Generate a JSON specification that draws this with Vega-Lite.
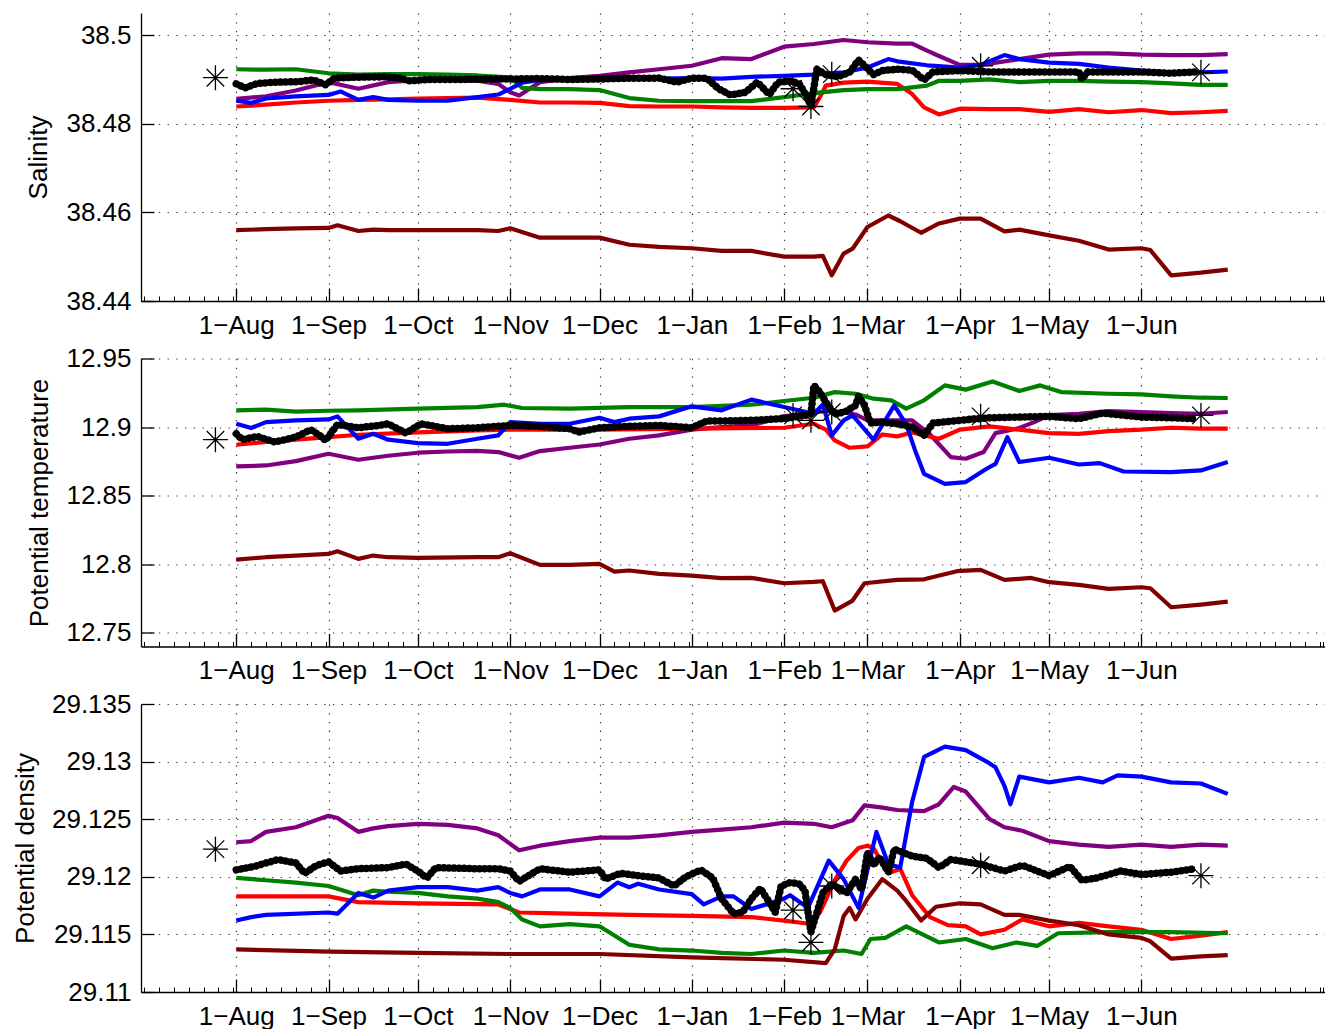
{
"$schema":"https://vega.github.io/schema/vega-lite/v6.json",
"background":"white",
"padding":{"left":12,"top":13,"right":0,"bottom":0},
"bounds":"flush",
"spacing":57.5,
"config":{
 "font":"Liberation Sans",
 "view":{"stroke":null},
 "axis":{"labelFontSize":26,"labelColor":"#000","titleFontSize":26,"titleFontWeight":"normal","titleColor":"#000","domainColor":"#000","domainWidth":1.3,"tickColor":"#000","tickWidth":1.3,"gridColor":"#000","gridDash":[1.3,7.4],"gridWidth":1.2,"gridOpacity":0.8}
},
"datasets":{
"S":[
{"s":"P","d":"2012-08-01","v":38.4856},{"s":"P","d":"2012-08-11","v":38.4862},{"s":"P","d":"2012-08-21","v":38.4875},{"s":"P","d":"2012-09-01","v":38.4894},{"s":"P","d":"2012-09-11","v":38.4879},{"s":"P","d":"2012-09-21","v":38.4894},{"s":"P","d":"2012-10-01","v":38.4899},{"s":"P","d":"2012-10-11","v":38.4899},{"s":"P","d":"2012-10-21","v":38.4897},{"s":"P","d":"2012-10-28","v":38.489},{"s":"P","d":"2012-11-01","v":38.4871},{"s":"P","d":"2012-11-04","v":38.4864},{"s":"P","d":"2012-11-11","v":38.4894},{"s":"P","d":"2012-11-21","v":38.4903},{"s":"P","d":"2012-12-01","v":38.4908},{"s":"P","d":"2012-12-11","v":38.4916},{"s":"P","d":"2012-12-21","v":38.4923},{"s":"P","d":"2013-01-01","v":38.4931},{"s":"P","d":"2013-01-11","v":38.4948},{"s":"P","d":"2013-01-21","v":38.4946},{"s":"P","d":"2013-02-01","v":38.4974},{"s":"P","d":"2013-02-11","v":38.498},{"s":"P","d":"2013-02-21","v":38.4989},{"s":"P","d":"2013-03-01","v":38.4984},{"s":"P","d":"2013-03-11","v":38.4981},{"s":"P","d":"2013-03-16","v":38.4981},{"s":"P","d":"2013-03-21","v":38.4965},{"s":"P","d":"2013-03-25","v":38.4953},{"s":"P","d":"2013-04-01","v":38.4933},{"s":"P","d":"2013-04-08","v":38.4933},{"s":"P","d":"2013-04-21","v":38.4946},{"s":"P","d":"2013-05-01","v":38.4956},{"s":"P","d":"2013-05-11","v":38.4959},{"s":"P","d":"2013-05-21","v":38.4959},{"s":"P","d":"2013-06-01","v":38.4956},{"s":"P","d":"2013-06-11","v":38.4955},{"s":"P","d":"2013-06-21","v":38.4955},{"s":"P","d":"2013-06-30","v":38.4957},
{"s":"R","d":"2012-08-01","v":38.4839},{"s":"R","d":"2012-08-11","v":38.4843},{"s":"R","d":"2012-08-21","v":38.4848},{"s":"R","d":"2012-09-01","v":38.4852},{"s":"R","d":"2012-09-11","v":38.4854},{"s":"R","d":"2012-09-21","v":38.4855},{"s":"R","d":"2012-10-01","v":38.4857},{"s":"R","d":"2012-10-11","v":38.4858},{"s":"R","d":"2012-10-21","v":38.4859},{"s":"R","d":"2012-11-01","v":38.4854},{"s":"R","d":"2012-11-11","v":38.4848},{"s":"R","d":"2012-11-21","v":38.4848},{"s":"R","d":"2012-12-01","v":38.4847},{"s":"R","d":"2012-12-11","v":38.484},{"s":"R","d":"2012-12-21","v":38.4839},{"s":"R","d":"2013-01-01","v":38.4839},{"s":"R","d":"2013-01-11","v":38.4837},{"s":"R","d":"2013-01-21","v":38.4836},{"s":"R","d":"2013-02-01","v":38.4836},{"s":"R","d":"2013-02-11","v":38.4837},{"s":"R","d":"2013-02-13","v":38.486},{"s":"R","d":"2013-02-15","v":38.4886},{"s":"R","d":"2013-02-21","v":38.4893},{"s":"R","d":"2013-03-01","v":38.4895},{"s":"R","d":"2013-03-11","v":38.489},{"s":"R","d":"2013-03-13","v":38.4881},{"s":"R","d":"2013-03-16","v":38.4867},{"s":"R","d":"2013-03-20","v":38.4837},{"s":"R","d":"2013-03-25","v":38.4821},{"s":"R","d":"2013-04-01","v":38.4834},{"s":"R","d":"2013-04-11","v":38.4833},{"s":"R","d":"2013-04-21","v":38.4833},{"s":"R","d":"2013-05-01","v":38.4827},{"s":"R","d":"2013-05-11","v":38.4833},{"s":"R","d":"2013-05-21","v":38.4826},{"s":"R","d":"2013-06-01","v":38.4831},{"s":"R","d":"2013-06-11","v":38.4824},{"s":"R","d":"2013-06-21","v":38.4826},{"s":"R","d":"2013-06-30","v":38.4829},
{"s":"G","d":"2012-08-01","v":38.4923},{"s":"G","d":"2012-08-11","v":38.4922},{"s":"G","d":"2012-08-21","v":38.4923},{"s":"G","d":"2012-09-01","v":38.4914},{"s":"G","d":"2012-09-11","v":38.4911},{"s":"G","d":"2012-09-21","v":38.4912},{"s":"G","d":"2012-10-01","v":38.4912},{"s":"G","d":"2012-10-11","v":38.4911},{"s":"G","d":"2012-10-21","v":38.4909},{"s":"G","d":"2012-11-01","v":38.4905},{"s":"G","d":"2012-11-05","v":38.4881},{"s":"G","d":"2012-11-11","v":38.4878},{"s":"G","d":"2012-11-21","v":38.4878},{"s":"G","d":"2012-12-01","v":38.4876},{"s":"G","d":"2012-12-11","v":38.4858},{"s":"G","d":"2012-12-21","v":38.4852},{"s":"G","d":"2013-01-01","v":38.4851},{"s":"G","d":"2013-01-11","v":38.4851},{"s":"G","d":"2013-01-21","v":38.4851},{"s":"G","d":"2013-02-01","v":38.486},{"s":"G","d":"2013-02-11","v":38.4869},{"s":"G","d":"2013-02-21","v":38.4876},{"s":"G","d":"2013-03-01","v":38.4878},{"s":"G","d":"2013-03-11","v":38.4878},{"s":"G","d":"2013-03-21","v":38.4886},{"s":"G","d":"2013-03-25","v":38.4897},{"s":"G","d":"2013-04-01","v":38.4897},{"s":"G","d":"2013-04-11","v":38.49},{"s":"G","d":"2013-04-21","v":38.4894},{"s":"G","d":"2013-05-01","v":38.4897},{"s":"G","d":"2013-05-11","v":38.4897},{"s":"G","d":"2013-05-21","v":38.4895},{"s":"G","d":"2013-06-01","v":38.4894},{"s":"G","d":"2013-06-11","v":38.4891},{"s":"G","d":"2013-06-21","v":38.4888},{"s":"G","d":"2013-06-30","v":38.4888},
{"s":"M","d":"2012-08-01","v":38.456},{"s":"M","d":"2012-08-11","v":38.4562},{"s":"M","d":"2012-08-21","v":38.4564},{"s":"M","d":"2012-09-01","v":38.4565},{"s":"M","d":"2012-09-04","v":38.4571},{"s":"M","d":"2012-09-11","v":38.4558},{"s":"M","d":"2012-09-16","v":38.4561},{"s":"M","d":"2012-09-21","v":38.456},{"s":"M","d":"2012-10-01","v":38.456},{"s":"M","d":"2012-10-11","v":38.456},{"s":"M","d":"2012-10-21","v":38.456},{"s":"M","d":"2012-10-28","v":38.4558},{"s":"M","d":"2012-11-01","v":38.4564},{"s":"M","d":"2012-11-11","v":38.4543},{"s":"M","d":"2012-11-21","v":38.4543},{"s":"M","d":"2012-12-01","v":38.4543},{"s":"M","d":"2012-12-11","v":38.4527},{"s":"M","d":"2012-12-21","v":38.4522},{"s":"M","d":"2013-01-01","v":38.4519},{"s":"M","d":"2013-01-11","v":38.4513},{"s":"M","d":"2013-01-21","v":38.4513},{"s":"M","d":"2013-02-01","v":38.45},{"s":"M","d":"2013-02-11","v":38.45},{"s":"M","d":"2013-02-14","v":38.4502},{"s":"M","d":"2013-02-17","v":38.4458},{"s":"M","d":"2013-02-21","v":38.4507},{"s":"M","d":"2013-02-24","v":38.4518},{"s":"M","d":"2013-03-01","v":38.4567},{"s":"M","d":"2013-03-08","v":38.4593},{"s":"M","d":"2013-03-12","v":38.458},{"s":"M","d":"2013-03-19","v":38.4554},{"s":"M","d":"2013-03-25","v":38.4575},{"s":"M","d":"2013-04-01","v":38.4586},{"s":"M","d":"2013-04-08","v":38.4586},{"s":"M","d":"2013-04-16","v":38.4557},{"s":"M","d":"2013-04-21","v":38.4561},{"s":"M","d":"2013-05-01","v":38.4548},{"s":"M","d":"2013-05-11","v":38.4536},{"s":"M","d":"2013-05-21","v":38.4516},{"s":"M","d":"2013-06-01","v":38.4519},{"s":"M","d":"2013-06-04","v":38.4515},{"s":"M","d":"2013-06-11","v":38.4458},{"s":"M","d":"2013-06-21","v":38.4464},{"s":"M","d":"2013-06-30","v":38.4471},
{"s":"B","d":"2012-08-01","v":38.4852},{"s":"B","d":"2012-08-06","v":38.4847},{"s":"B","d":"2012-08-11","v":38.4857},{"s":"B","d":"2012-08-21","v":38.4862},{"s":"B","d":"2012-09-01","v":38.4865},{"s":"B","d":"2012-09-05","v":38.4873},{"s":"B","d":"2012-09-11","v":38.4854},{"s":"B","d":"2012-09-16","v":38.486},{"s":"B","d":"2012-09-21","v":38.4854},{"s":"B","d":"2012-10-01","v":38.4852},{"s":"B","d":"2012-10-11","v":38.4852},{"s":"B","d":"2012-10-21","v":38.486},{"s":"B","d":"2012-10-28","v":38.4866},{"s":"B","d":"2012-11-01","v":38.4879},{"s":"B","d":"2012-11-05","v":38.4893},{"s":"B","d":"2012-11-11","v":38.4899},{"s":"B","d":"2012-11-21","v":38.4901},{"s":"B","d":"2012-12-01","v":38.4901},{"s":"B","d":"2012-12-11","v":38.4902},{"s":"B","d":"2012-12-21","v":38.4902},{"s":"B","d":"2013-01-01","v":38.4903},{"s":"B","d":"2013-01-11","v":38.4902},{"s":"B","d":"2013-01-21","v":38.4906},{"s":"B","d":"2013-02-01","v":38.4908},{"s":"B","d":"2013-02-11","v":38.4911},{"s":"B","d":"2013-02-21","v":38.4916},{"s":"B","d":"2013-03-01","v":38.4927},{"s":"B","d":"2013-03-08","v":38.4946},{"s":"B","d":"2013-03-11","v":38.4941},{"s":"B","d":"2013-03-21","v":38.4932},{"s":"B","d":"2013-04-01","v":38.4927},{"s":"B","d":"2013-04-08","v":38.4933},{"s":"B","d":"2013-04-16","v":38.4955},{"s":"B","d":"2013-04-21","v":38.4946},{"s":"B","d":"2013-05-01","v":38.4938},{"s":"B","d":"2013-05-11","v":38.4935},{"s":"B","d":"2013-05-21","v":38.4927},{"s":"B","d":"2013-06-01","v":38.492},{"s":"B","d":"2013-06-11","v":38.4916},{"s":"B","d":"2013-06-21","v":38.4916},{"s":"B","d":"2013-06-30","v":38.4918},
{"s":"K","d":"2012-08-01","v":38.489},{"s":"K","d":"2012-08-04","v":38.4881},{"s":"K","d":"2012-08-08","v":38.4891},{"s":"K","d":"2012-08-15","v":38.4894},{"s":"K","d":"2012-08-22","v":38.4895},{"s":"K","d":"2012-08-27","v":38.4899},{"s":"K","d":"2012-08-31","v":38.4888},{"s":"K","d":"2012-09-03","v":38.4903},{"s":"K","d":"2012-09-10","v":38.4905},{"s":"K","d":"2012-09-20","v":38.4906},{"s":"K","d":"2012-09-25","v":38.4903},{"s":"K","d":"2012-09-28","v":38.4897},{"s":"K","d":"2012-10-05","v":38.49},{"s":"K","d":"2012-10-15","v":38.49},{"s":"K","d":"2012-10-25","v":38.4901},{"s":"K","d":"2012-11-01","v":38.4901},{"s":"K","d":"2012-11-11","v":38.4902},{"s":"K","d":"2012-11-21","v":38.49},{"s":"K","d":"2012-12-01","v":38.4901},{"s":"K","d":"2012-12-11","v":38.4903},{"s":"K","d":"2012-12-21","v":38.4903},{"s":"K","d":"2012-12-27","v":38.4894},{"s":"K","d":"2013-01-01","v":38.4903},{"s":"K","d":"2013-01-06","v":38.4903},{"s":"K","d":"2013-01-10","v":38.4879},{"s":"K","d":"2013-01-14","v":38.4865},{"s":"K","d":"2013-01-19","v":38.4871},{"s":"K","d":"2013-01-23","v":38.4894},{"s":"K","d":"2013-01-27","v":38.4866},{"s":"K","d":"2013-01-30","v":38.4894},{"s":"K","d":"2013-02-03","v":38.4896},{"s":"K","d":"2013-02-06","v":38.4891},{"s":"K","d":"2013-02-08","v":38.4869},{"s":"K","d":"2013-02-10","v":38.4841},{"s":"K","d":"2013-02-12","v":38.4923},{"s":"K","d":"2013-02-15","v":38.4911},{"s":"K","d":"2013-02-19","v":38.4906},{"s":"K","d":"2013-02-23","v":38.4916},{"s":"K","d":"2013-02-26","v":38.4944},{"s":"K","d":"2013-02-28","v":38.4931},{"s":"K","d":"2013-03-03","v":38.4911},{"s":"K","d":"2013-03-06","v":38.492},{"s":"K","d":"2013-03-11","v":38.4923},{"s":"K","d":"2013-03-16","v":38.4921},{"s":"K","d":"2013-03-20","v":38.4899},{"s":"K","d":"2013-03-23","v":38.4917},{"s":"K","d":"2013-04-01","v":38.492},{"s":"K","d":"2013-04-11","v":38.4917},{"s":"K","d":"2013-04-21","v":38.4917},{"s":"K","d":"2013-05-01","v":38.4917},{"s":"K","d":"2013-05-11","v":38.4917},{"s":"K","d":"2013-05-12","v":38.4901},{"s":"K","d":"2013-05-14","v":38.4917},{"s":"K","d":"2013-05-21","v":38.4917},{"s":"K","d":"2013-06-01","v":38.4917},{"s":"K","d":"2013-06-11","v":38.4914},{"s":"K","d":"2013-06-19","v":38.4917},
{"s":"A","d":"2012-07-25","v":38.4904},{"s":"A","d":"2013-02-04","v":38.4879},{"s":"A","d":"2013-02-10","v":38.4839},{"s":"A","d":"2013-02-17","v":38.4912},{"s":"A","d":"2013-04-08","v":38.4931},{"s":"A","d":"2013-06-21","v":38.4916}
],
"T":[
{"s":"P","d":"2012-08-01","v":12.8713},{"s":"P","d":"2012-08-11","v":12.872},{"s":"P","d":"2012-08-21","v":12.8752},{"s":"P","d":"2012-09-01","v":12.8805},{"s":"P","d":"2012-09-11","v":12.8762},{"s":"P","d":"2012-09-21","v":12.8791},{"s":"P","d":"2012-10-01","v":12.8813},{"s":"P","d":"2012-10-11","v":12.8822},{"s":"P","d":"2012-10-21","v":12.8827},{"s":"P","d":"2012-10-28","v":12.8818},{"s":"P","d":"2012-11-04","v":12.8776},{"s":"P","d":"2012-11-11","v":12.8825},{"s":"P","d":"2012-11-21","v":12.8849},{"s":"P","d":"2012-12-01","v":12.8873},{"s":"P","d":"2012-12-11","v":12.8915},{"s":"P","d":"2012-12-21","v":12.8939},{"s":"P","d":"2013-01-01","v":12.8981},{"s":"P","d":"2013-01-11","v":12.9},{"s":"P","d":"2013-01-21","v":12.9012},{"s":"P","d":"2013-02-01","v":12.9078},{"s":"P","d":"2013-02-11","v":12.911},{"s":"P","d":"2013-02-18","v":12.9117},{"s":"P","d":"2013-02-25","v":12.9092},{"s":"P","d":"2013-03-01","v":12.9049},{"s":"P","d":"2013-03-11","v":12.9049},{"s":"P","d":"2013-03-16","v":12.9049},{"s":"P","d":"2013-03-22","v":12.8946},{"s":"P","d":"2013-03-29","v":12.8781},{"s":"P","d":"2013-04-03","v":12.8769},{"s":"P","d":"2013-04-09","v":12.8818},{"s":"P","d":"2013-04-13","v":12.8956},{"s":"P","d":"2013-04-21","v":12.8993},{"s":"P","d":"2013-04-26","v":12.9036},{"s":"P","d":"2013-05-01","v":12.9088},{"s":"P","d":"2013-05-11","v":12.9097},{"s":"P","d":"2013-05-21","v":12.9117},{"s":"P","d":"2013-06-01","v":12.911},{"s":"P","d":"2013-06-11","v":12.9102},{"s":"P","d":"2013-06-21","v":12.9097},{"s":"P","d":"2013-06-30","v":12.911},
{"s":"R","d":"2012-08-01","v":12.8871},{"s":"R","d":"2012-08-11","v":12.8891},{"s":"R","d":"2012-08-21","v":12.8908},{"s":"R","d":"2012-09-01","v":12.8927},{"s":"R","d":"2012-09-11","v":12.8944},{"s":"R","d":"2012-10-01","v":12.8961},{"s":"R","d":"2012-10-21","v":12.8976},{"s":"R","d":"2012-11-01","v":12.8981},{"s":"R","d":"2012-12-01","v":12.8981},{"s":"R","d":"2013-01-01","v":12.8988},{"s":"R","d":"2013-02-01","v":12.8995},{"s":"R","d":"2013-02-11","v":12.9024},{"s":"R","d":"2013-02-15","v":12.8981},{"s":"R","d":"2013-02-18","v":12.8903},{"s":"R","d":"2013-02-23","v":12.8849},{"s":"R","d":"2013-03-01","v":12.8859},{"s":"R","d":"2013-03-06","v":12.8946},{"s":"R","d":"2013-03-11","v":12.8932},{"s":"R","d":"2013-03-16","v":12.8961},{"s":"R","d":"2013-03-25","v":12.8915},{"s":"R","d":"2013-04-01","v":12.8981},{"s":"R","d":"2013-04-11","v":12.9005},{"s":"R","d":"2013-04-21","v":12.8981},{"s":"R","d":"2013-05-01","v":12.8956},{"s":"R","d":"2013-05-11","v":12.8951},{"s":"R","d":"2013-05-21","v":12.8971},{"s":"R","d":"2013-06-01","v":12.8981},{"s":"R","d":"2013-06-11","v":12.8995},{"s":"R","d":"2013-06-21","v":12.8988},{"s":"R","d":"2013-06-30","v":12.8988},
{"s":"G","d":"2012-08-01","v":12.9122},{"s":"G","d":"2012-08-11","v":12.9127},{"s":"G","d":"2012-08-21","v":12.9112},{"s":"G","d":"2012-09-01","v":12.9119},{"s":"G","d":"2012-09-11","v":12.9122},{"s":"G","d":"2012-10-01","v":12.9134},{"s":"G","d":"2012-10-21","v":12.9146},{"s":"G","d":"2012-10-30","v":12.9163},{"s":"G","d":"2012-11-05","v":12.9139},{"s":"G","d":"2012-11-21","v":12.9134},{"s":"G","d":"2012-12-11","v":12.9146},{"s":"G","d":"2013-01-01","v":12.9146},{"s":"G","d":"2013-01-21","v":12.9163},{"s":"G","d":"2013-02-01","v":12.919},{"s":"G","d":"2013-02-11","v":12.9214},{"s":"G","d":"2013-02-18","v":12.9255},{"s":"G","d":"2013-02-25","v":12.9243},{"s":"G","d":"2013-03-03","v":12.9207},{"s":"G","d":"2013-03-09","v":12.9195},{"s":"G","d":"2013-03-14","v":12.9134},{"s":"G","d":"2013-03-20","v":12.9195},{"s":"G","d":"2013-03-27","v":12.9304},{"s":"G","d":"2013-04-03","v":12.9273},{"s":"G","d":"2013-04-12","v":12.9333},{"s":"G","d":"2013-04-21","v":12.9263},{"s":"G","d":"2013-04-28","v":12.9304},{"s":"G","d":"2013-05-05","v":12.9255},{"s":"G","d":"2013-05-21","v":12.9243},{"s":"G","d":"2013-06-01","v":12.9238},{"s":"G","d":"2013-06-11","v":12.9224},{"s":"G","d":"2013-06-21","v":12.9214},{"s":"G","d":"2013-06-30","v":12.9212},
{"s":"M","d":"2012-08-01","v":12.8034},{"s":"M","d":"2012-08-11","v":12.8051},{"s":"M","d":"2012-08-21","v":12.8063},{"s":"M","d":"2012-09-01","v":12.8075},{"s":"M","d":"2012-09-04","v":12.8095},{"s":"M","d":"2012-09-11","v":12.8039},{"s":"M","d":"2012-09-16","v":12.8063},{"s":"M","d":"2012-09-21","v":12.8051},{"s":"M","d":"2012-10-01","v":12.8046},{"s":"M","d":"2012-10-21","v":12.8051},{"s":"M","d":"2012-10-28","v":12.8051},{"s":"M","d":"2012-11-01","v":12.808},{"s":"M","d":"2012-11-11","v":12.7995},{"s":"M","d":"2012-11-21","v":12.7995},{"s":"M","d":"2012-12-01","v":12.8002},{"s":"M","d":"2012-12-06","v":12.7946},{"s":"M","d":"2012-12-11","v":12.7954},{"s":"M","d":"2012-12-21","v":12.7929},{"s":"M","d":"2013-01-01","v":12.7917},{"s":"M","d":"2013-01-11","v":12.7898},{"s":"M","d":"2013-01-21","v":12.79},{"s":"M","d":"2013-02-01","v":12.7861},{"s":"M","d":"2013-02-11","v":12.7871},{"s":"M","d":"2013-02-14","v":12.7876},{"s":"M","d":"2013-02-18","v":12.7662},{"s":"M","d":"2013-02-24","v":12.7735},{"s":"M","d":"2013-02-28","v":12.7861},{"s":"M","d":"2013-03-11","v":12.7886},{"s":"M","d":"2013-03-20","v":12.789},{"s":"M","d":"2013-03-31","v":12.7949},{"s":"M","d":"2013-04-08","v":12.7959},{"s":"M","d":"2013-04-16","v":12.7886},{"s":"M","d":"2013-04-25","v":12.79},{"s":"M","d":"2013-05-01","v":12.7869},{"s":"M","d":"2013-05-11","v":12.7849},{"s":"M","d":"2013-05-21","v":12.782},{"s":"M","d":"2013-06-01","v":12.7832},{"s":"M","d":"2013-06-04","v":12.7825},{"s":"M","d":"2013-06-11","v":12.7686},{"s":"M","d":"2013-06-21","v":12.7706},{"s":"M","d":"2013-06-30","v":12.7727},
{"s":"B","d":"2012-08-01","v":12.9024},{"s":"B","d":"2012-08-06","v":12.8993},{"s":"B","d":"2012-08-11","v":12.9036},{"s":"B","d":"2012-08-21","v":12.9049},{"s":"B","d":"2012-09-01","v":12.9056},{"s":"B","d":"2012-09-04","v":12.9078},{"s":"B","d":"2012-09-11","v":12.8915},{"s":"B","d":"2012-09-16","v":12.8951},{"s":"B","d":"2012-09-21","v":12.8908},{"s":"B","d":"2012-10-01","v":12.8883},{"s":"B","d":"2012-10-11","v":12.8878},{"s":"B","d":"2012-10-21","v":12.8915},{"s":"B","d":"2012-10-28","v":12.8939},{"s":"B","d":"2012-11-01","v":12.9036},{"s":"B","d":"2012-11-11","v":12.9024},{"s":"B","d":"2012-11-21","v":12.9024},{"s":"B","d":"2012-12-01","v":12.9068},{"s":"B","d":"2012-12-06","v":12.9036},{"s":"B","d":"2012-12-11","v":12.9061},{"s":"B","d":"2012-12-21","v":12.9078},{"s":"B","d":"2013-01-01","v":12.9151},{"s":"B","d":"2013-01-11","v":12.9122},{"s":"B","d":"2013-01-21","v":12.92},{"s":"B","d":"2013-02-01","v":12.9146},{"s":"B","d":"2013-02-11","v":12.9097},{"s":"B","d":"2013-02-14","v":12.9165},{"s":"B","d":"2013-02-17","v":12.8939},{"s":"B","d":"2013-02-21","v":12.9049},{"s":"B","d":"2013-02-24","v":12.9085},{"s":"B","d":"2013-03-03","v":12.8908},{"s":"B","d":"2013-03-10","v":12.9158},{"s":"B","d":"2013-03-14","v":12.902},{"s":"B","d":"2013-03-17","v":12.883},{"s":"B","d":"2013-03-20","v":12.8659},{"s":"B","d":"2013-03-27","v":12.8586},{"s":"B","d":"2013-04-03","v":12.8599},{"s":"B","d":"2013-04-10","v":12.8696},{"s":"B","d":"2013-04-13","v":12.8732},{"s":"B","d":"2013-04-17","v":12.8927},{"s":"B","d":"2013-04-21","v":12.8745},{"s":"B","d":"2013-05-01","v":12.8776},{"s":"B","d":"2013-05-11","v":12.8727},{"s":"B","d":"2013-05-18","v":12.8737},{"s":"B","d":"2013-05-26","v":12.8676},{"s":"B","d":"2013-06-11","v":12.8672},{"s":"B","d":"2013-06-21","v":12.8684},{"s":"B","d":"2013-06-30","v":12.8745},
{"s":"K","d":"2012-08-01","v":12.8951},{"s":"K","d":"2012-08-03","v":12.8908},{"s":"K","d":"2012-08-08","v":12.8932},{"s":"K","d":"2012-08-14","v":12.8891},{"s":"K","d":"2012-08-21","v":12.8927},{"s":"K","d":"2012-08-26","v":12.8981},{"s":"K","d":"2012-08-29","v":12.8939},{"s":"K","d":"2012-08-31","v":12.8903},{"s":"K","d":"2012-09-04","v":12.9019},{"s":"K","d":"2012-09-11","v":12.8995},{"s":"K","d":"2012-09-18","v":12.9012},{"s":"K","d":"2012-09-21","v":12.9024},{"s":"K","d":"2012-09-27","v":12.8956},{"s":"K","d":"2012-10-02","v":12.9024},{"s":"K","d":"2012-10-11","v":12.8988},{"s":"K","d":"2012-10-21","v":12.8995},{"s":"K","d":"2012-11-01","v":12.9012},{"s":"K","d":"2012-11-11","v":12.9005},{"s":"K","d":"2012-11-21","v":12.8988},{"s":"K","d":"2012-11-24","v":12.8963},{"s":"K","d":"2012-12-01","v":12.8995},{"s":"K","d":"2012-12-11","v":12.9005},{"s":"K","d":"2012-12-21","v":12.9012},{"s":"K","d":"2013-01-01","v":12.8995},{"s":"K","d":"2013-01-06","v":12.9044},{"s":"K","d":"2013-01-11","v":12.9044},{"s":"K","d":"2013-01-21","v":12.9049},{"s":"K","d":"2013-02-01","v":12.9061},{"s":"K","d":"2013-02-06","v":12.9078},{"s":"K","d":"2013-02-10","v":12.9092},{"s":"K","d":"2013-02-11","v":12.9304},{"s":"K","d":"2013-02-13","v":12.9255},{"s":"K","d":"2013-02-15","v":12.9182},{"s":"K","d":"2013-02-18","v":12.9092},{"s":"K","d":"2013-02-22","v":12.9117},{"s":"K","d":"2013-02-25","v":12.9158},{"s":"K","d":"2013-02-26","v":12.9224},{"s":"K","d":"2013-02-28","v":12.9158},{"s":"K","d":"2013-03-02","v":12.9029},{"s":"K","d":"2013-03-06","v":12.9036},{"s":"K","d":"2013-03-11","v":12.9024},{"s":"K","d":"2013-03-16","v":12.9},{"s":"K","d":"2013-03-20","v":12.8939},{"s":"K","d":"2013-03-23","v":12.9029},{"s":"K","d":"2013-04-01","v":12.9049},{"s":"K","d":"2013-04-11","v":12.9068},{"s":"K","d":"2013-04-21","v":12.9073},{"s":"K","d":"2013-05-01","v":12.9078},{"s":"K","d":"2013-05-11","v":12.9061},{"s":"K","d":"2013-05-19","v":12.9102},{"s":"K","d":"2013-06-01","v":12.9073},{"s":"K","d":"2013-06-11","v":12.9068},{"s":"K","d":"2013-06-19","v":12.9061},
{"s":"A","d":"2012-07-25","v":12.8908},{"s":"A","d":"2013-02-04","v":12.9085},{"s":"A","d":"2013-02-10","v":12.9049},{"s":"A","d":"2013-02-17","v":12.911},{"s":"A","d":"2013-04-08","v":12.9078},{"s":"A","d":"2013-06-21","v":12.9085}
],
"D":[
{"s":"P","d":"2012-08-01","v":29.123},{"s":"P","d":"2012-08-06","v":29.1231},{"s":"P","d":"2012-08-11","v":29.1239},{"s":"P","d":"2012-08-21","v":29.1243},{"s":"P","d":"2012-09-01","v":29.1253},{"s":"P","d":"2012-09-04","v":29.1251},{"s":"P","d":"2012-09-11","v":29.1239},{"s":"P","d":"2012-09-16","v":29.1242},{"s":"P","d":"2012-09-21","v":29.1244},{"s":"P","d":"2012-10-01","v":29.1246},{"s":"P","d":"2012-10-11","v":29.1245},{"s":"P","d":"2012-10-21","v":29.1242},{"s":"P","d":"2012-10-28","v":29.1236},{"s":"P","d":"2012-11-04","v":29.1223},{"s":"P","d":"2012-11-11","v":29.1227},{"s":"P","d":"2012-11-21","v":29.1231},{"s":"P","d":"2012-12-01","v":29.1234},{"s":"P","d":"2012-12-11","v":29.1234},{"s":"P","d":"2012-12-21","v":29.1236},{"s":"P","d":"2013-01-01","v":29.1239},{"s":"P","d":"2013-01-11","v":29.1241},{"s":"P","d":"2013-01-21","v":29.1243},{"s":"P","d":"2013-02-01","v":29.1247},{"s":"P","d":"2013-02-11","v":29.1246},{"s":"P","d":"2013-02-17","v":29.1243},{"s":"P","d":"2013-02-24","v":29.1249},{"s":"P","d":"2013-02-28","v":29.1262},{"s":"P","d":"2013-03-06","v":29.126},{"s":"P","d":"2013-03-11","v":29.1258},{"s":"P","d":"2013-03-20","v":29.1257},{"s":"P","d":"2013-03-25","v":29.1263},{"s":"P","d":"2013-03-30","v":29.1278},{"s":"P","d":"2013-04-03","v":29.1274},{"s":"P","d":"2013-04-11","v":29.125},{"s":"P","d":"2013-04-16","v":29.1243},{"s":"P","d":"2013-04-22","v":29.124},{"s":"P","d":"2013-05-01","v":29.1231},{"s":"P","d":"2013-05-11","v":29.1228},{"s":"P","d":"2013-05-21","v":29.1226},{"s":"P","d":"2013-06-01","v":29.1228},{"s":"P","d":"2013-06-11","v":29.1226},{"s":"P","d":"2013-06-21","v":29.1228},{"s":"P","d":"2013-06-30","v":29.1227},
{"s":"R","d":"2012-08-01","v":29.1183},{"s":"R","d":"2012-09-01","v":29.1183},{"s":"R","d":"2012-09-11","v":29.1178},{"s":"R","d":"2012-10-01","v":29.1177},{"s":"R","d":"2012-10-28","v":29.1176},{"s":"R","d":"2012-11-04","v":29.1169},{"s":"R","d":"2012-11-21","v":29.1168},{"s":"R","d":"2012-12-11","v":29.1167},{"s":"R","d":"2013-01-01","v":29.1166},{"s":"R","d":"2013-01-21","v":29.1165},{"s":"R","d":"2013-02-01","v":29.1162},{"s":"R","d":"2013-02-10","v":29.1159},{"s":"R","d":"2013-02-13","v":29.1169},{"s":"R","d":"2013-02-18","v":29.1197},{"s":"R","d":"2013-02-22","v":29.1214},{"s":"R","d":"2013-02-26","v":29.1225},{"s":"R","d":"2013-03-01","v":29.1227},{"s":"R","d":"2013-03-03","v":29.1225},{"s":"R","d":"2013-03-08","v":29.1203},{"s":"R","d":"2013-03-12","v":29.1207},{"s":"R","d":"2013-03-16","v":29.1184},{"s":"R","d":"2013-03-22","v":29.1165},{"s":"R","d":"2013-03-28","v":29.1158},{"s":"R","d":"2013-04-03","v":29.1157},{"s":"R","d":"2013-04-08","v":29.115},{"s":"R","d":"2013-04-16","v":29.1154},{"s":"R","d":"2013-04-22","v":29.1163},{"s":"R","d":"2013-05-01","v":29.1157},{"s":"R","d":"2013-05-11","v":29.116},{"s":"R","d":"2013-05-21","v":29.1157},{"s":"R","d":"2013-06-01","v":29.1154},{"s":"R","d":"2013-06-11","v":29.1146},{"s":"R","d":"2013-06-21","v":29.1149},{"s":"R","d":"2013-06-30","v":29.1152},
{"s":"G","d":"2012-08-01","v":29.1199},{"s":"G","d":"2012-08-11","v":29.1197},{"s":"G","d":"2012-08-21","v":29.1195},{"s":"G","d":"2012-09-01","v":29.1192},{"s":"G","d":"2012-09-11","v":29.1184},{"s":"G","d":"2012-09-16","v":29.1188},{"s":"G","d":"2012-09-21","v":29.1187},{"s":"G","d":"2012-10-01","v":29.1186},{"s":"G","d":"2012-10-11","v":29.1183},{"s":"G","d":"2012-10-21","v":29.1181},{"s":"G","d":"2012-10-28","v":29.1178},{"s":"G","d":"2012-11-01","v":29.1173},{"s":"G","d":"2012-11-05","v":29.1163},{"s":"G","d":"2012-11-11","v":29.1157},{"s":"G","d":"2012-11-21","v":29.1159},{"s":"G","d":"2012-12-01","v":29.1157},{"s":"G","d":"2012-12-11","v":29.1141},{"s":"G","d":"2012-12-21","v":29.1137},{"s":"G","d":"2013-01-01","v":29.1136},{"s":"G","d":"2013-01-11","v":29.1134},{"s":"G","d":"2013-01-21","v":29.1133},{"s":"G","d":"2013-02-01","v":29.1136},{"s":"G","d":"2013-02-11","v":29.1134},{"s":"G","d":"2013-02-21","v":29.1136},{"s":"G","d":"2013-02-27","v":29.1133},{"s":"G","d":"2013-03-02","v":29.1146},{"s":"G","d":"2013-03-07","v":29.1147},{"s":"G","d":"2013-03-14","v":29.1157},{"s":"G","d":"2013-03-25","v":29.1143},{"s":"G","d":"2013-04-03","v":29.1146},{"s":"G","d":"2013-04-12","v":29.1138},{"s":"G","d":"2013-04-20","v":29.1143},{"s":"G","d":"2013-04-27","v":29.114},{"s":"G","d":"2013-05-04","v":29.1151},{"s":"G","d":"2013-05-21","v":29.1152},{"s":"G","d":"2013-06-11","v":29.1152},{"s":"G","d":"2013-06-30","v":29.1151},
{"s":"M","d":"2012-08-01","v":29.1137},{"s":"M","d":"2012-09-01","v":29.1135},{"s":"M","d":"2012-10-01","v":29.1134},{"s":"M","d":"2012-11-01","v":29.1133},{"s":"M","d":"2012-12-01","v":29.1133},{"s":"M","d":"2013-01-01","v":29.113},{"s":"M","d":"2013-02-01","v":29.1128},{"s":"M","d":"2013-02-15","v":29.1125},{"s":"M","d":"2013-02-18","v":29.1137},{"s":"M","d":"2013-02-21","v":29.1166},{"s":"M","d":"2013-02-23","v":29.1173},{"s":"M","d":"2013-02-25","v":29.1163},{"s":"M","d":"2013-03-01","v":29.1181},{"s":"M","d":"2013-03-06","v":29.1198},{"s":"M","d":"2013-03-11","v":29.1188},{"s":"M","d":"2013-03-14","v":29.1179},{"s":"M","d":"2013-03-19","v":29.1162},{"s":"M","d":"2013-03-24","v":29.1174},{"s":"M","d":"2013-04-01","v":29.1177},{"s":"M","d":"2013-04-08","v":29.1176},{"s":"M","d":"2013-04-16","v":29.1167},{"s":"M","d":"2013-04-21","v":29.1167},{"s":"M","d":"2013-05-01","v":29.1162},{"s":"M","d":"2013-05-11","v":29.1158},{"s":"M","d":"2013-05-21","v":29.115},{"s":"M","d":"2013-06-01","v":29.1147},{"s":"M","d":"2013-06-04","v":29.1144},{"s":"M","d":"2013-06-11","v":29.1129},{"s":"M","d":"2013-06-21","v":29.1131},{"s":"M","d":"2013-06-30","v":29.1132},
{"s":"B","d":"2012-08-01","v":29.1162},{"s":"B","d":"2012-08-06","v":29.1165},{"s":"B","d":"2012-08-11","v":29.1167},{"s":"B","d":"2012-09-01","v":29.1169},{"s":"B","d":"2012-09-04","v":29.1168},{"s":"B","d":"2012-09-11","v":29.1186},{"s":"B","d":"2012-09-16","v":29.1182},{"s":"B","d":"2012-09-21","v":29.1188},{"s":"B","d":"2012-10-01","v":29.1191},{"s":"B","d":"2012-10-11","v":29.1191},{"s":"B","d":"2012-10-21","v":29.1188},{"s":"B","d":"2012-10-28","v":29.1191},{"s":"B","d":"2012-11-01","v":29.1186},{"s":"B","d":"2012-11-05","v":29.1183},{"s":"B","d":"2012-11-11","v":29.1189},{"s":"B","d":"2012-11-21","v":29.1189},{"s":"B","d":"2012-12-01","v":29.1183},{"s":"B","d":"2012-12-07","v":29.1195},{"s":"B","d":"2012-12-11","v":29.1191},{"s":"B","d":"2012-12-14","v":29.1194},{"s":"B","d":"2012-12-21","v":29.1189},{"s":"B","d":"2013-01-01","v":29.1185},{"s":"B","d":"2013-01-05","v":29.1176},{"s":"B","d":"2013-01-11","v":29.1183},{"s":"B","d":"2013-01-15","v":29.1183},{"s":"B","d":"2013-01-21","v":29.1172},{"s":"B","d":"2013-02-01","v":29.1181},{"s":"B","d":"2013-02-03","v":29.1184},{"s":"B","d":"2013-02-09","v":29.1173},{"s":"B","d":"2013-02-16","v":29.1214},{"s":"B","d":"2013-02-21","v":29.1198},{"s":"B","d":"2013-02-26","v":29.1173},{"s":"B","d":"2013-03-04","v":29.1239},{"s":"B","d":"2013-03-08","v":29.1211},{"s":"B","d":"2013-03-12","v":29.1208},{"s":"B","d":"2013-03-16","v":29.1265},{"s":"B","d":"2013-03-20","v":29.1304},{"s":"B","d":"2013-03-27","v":29.1313},{"s":"B","d":"2013-04-03","v":29.131},{"s":"B","d":"2013-04-10","v":29.13},{"s":"B","d":"2013-04-13","v":29.1295},{"s":"B","d":"2013-04-16","v":29.1279},{"s":"B","d":"2013-04-18","v":29.1263},{"s":"B","d":"2013-04-21","v":29.1287},{"s":"B","d":"2013-05-01","v":29.1282},{"s":"B","d":"2013-05-11","v":29.1286},{"s":"B","d":"2013-05-19","v":29.1282},{"s":"B","d":"2013-05-24","v":29.1288},{"s":"B","d":"2013-06-01","v":29.1287},{"s":"B","d":"2013-06-11","v":29.1282},{"s":"B","d":"2013-06-21","v":29.1281},{"s":"B","d":"2013-06-30","v":29.1272},
{"s":"K","d":"2012-08-01","v":29.1206},{"s":"K","d":"2012-08-07","v":29.1209},{"s":"K","d":"2012-08-11","v":29.1212},{"s":"K","d":"2012-08-15","v":29.1215},{"s":"K","d":"2012-08-21","v":29.1212},{"s":"K","d":"2012-08-24","v":29.1203},{"s":"K","d":"2012-08-28","v":29.121},{"s":"K","d":"2012-09-01","v":29.1213},{"s":"K","d":"2012-09-05","v":29.1205},{"s":"K","d":"2012-09-11","v":29.1207},{"s":"K","d":"2012-09-21","v":29.1208},{"s":"K","d":"2012-09-27","v":29.1211},{"s":"K","d":"2012-10-01","v":29.1205},{"s":"K","d":"2012-10-04","v":29.1199},{"s":"K","d":"2012-10-07","v":29.1208},{"s":"K","d":"2012-10-21","v":29.1207},{"s":"K","d":"2012-10-28","v":29.1207},{"s":"K","d":"2012-11-01","v":29.1205},{"s":"K","d":"2012-11-04","v":29.1196},{"s":"K","d":"2012-11-11","v":29.1207},{"s":"K","d":"2012-11-21","v":29.1204},{"s":"K","d":"2012-12-01","v":29.1206},{"s":"K","d":"2012-12-03","v":29.1198},{"s":"K","d":"2012-12-08","v":29.1203},{"s":"K","d":"2012-12-14","v":29.1201},{"s":"K","d":"2012-12-21","v":29.1199},{"s":"K","d":"2012-12-26","v":29.1192},{"s":"K","d":"2012-12-30","v":29.12},{"s":"K","d":"2013-01-04","v":29.1206},{"s":"K","d":"2013-01-08","v":29.1199},{"s":"K","d":"2013-01-11","v":29.1181},{"s":"K","d":"2013-01-15","v":29.1168},{"s":"K","d":"2013-01-18","v":29.1169},{"s":"K","d":"2013-01-21","v":29.1181},{"s":"K","d":"2013-01-24","v":29.119},{"s":"K","d":"2013-01-27","v":29.1178},{"s":"K","d":"2013-01-29","v":29.1169},{"s":"K","d":"2013-01-31","v":29.1192},{"s":"K","d":"2013-02-03","v":29.1195},{"s":"K","d":"2013-02-06","v":29.1194},{"s":"K","d":"2013-02-08","v":29.1188},{"s":"K","d":"2013-02-10","v":29.1152},{"s":"K","d":"2013-02-12","v":29.1169},{"s":"K","d":"2013-02-14","v":29.1186},{"s":"K","d":"2013-02-17","v":29.1194},{"s":"K","d":"2013-02-20","v":29.1189},{"s":"K","d":"2013-02-22","v":29.1186},{"s":"K","d":"2013-02-25","v":29.1198},{"s":"K","d":"2013-02-27","v":29.1189},{"s":"K","d":"2013-03-01","v":29.1221},{"s":"K","d":"2013-03-03","v":29.121},{"s":"K","d":"2013-03-05","v":29.1217},{"s":"K","d":"2013-03-08","v":29.1204},{"s":"K","d":"2013-03-10","v":29.1224},{"s":"K","d":"2013-03-13","v":29.1221},{"s":"K","d":"2013-03-16","v":29.1218},{"s":"K","d":"2013-03-21","v":29.1216},{"s":"K","d":"2013-03-25","v":29.1208},{"s":"K","d":"2013-03-29","v":29.1215},{"s":"K","d":"2013-04-08","v":29.1211},{"s":"K","d":"2013-04-16","v":29.1205},{"s":"K","d":"2013-04-22","v":29.121},{"s":"K","d":"2013-05-01","v":29.1201},{"s":"K","d":"2013-05-08","v":29.1209},{"s":"K","d":"2013-05-12","v":29.1197},{"s":"K","d":"2013-05-17","v":29.1199},{"s":"K","d":"2013-05-25","v":29.1205},{"s":"K","d":"2013-06-01","v":29.1202},{"s":"K","d":"2013-06-11","v":29.1204},{"s":"K","d":"2013-06-19","v":29.1207},
{"s":"A","d":"2012-07-25","v":29.1224},{"s":"A","d":"2013-02-04","v":29.1171},{"s":"A","d":"2013-02-10","v":29.1143},{"s":"A","d":"2013-02-17","v":29.1192},{"s":"A","d":"2013-04-08","v":29.121},{"s":"A","d":"2013-06-21","v":29.1201}
]
},
"vconcat":[
{"width":1185,"height":288,"data":{"name":"S"},"resolve":{"axis":{"x":"independent"}},
 "layer":[
 {"encoding":{
  "x":{"field":"d","type":"temporal","scale":{"type":"utc","domain":[{"year":2012,"month":6,"date":30,"utc":true},{"year":2013,"month":8,"date":2,"utc":true}]},
   "axis":{"values":[{"year":2012,"month":8,"date":1,"utc":true},{"year":2012,"month":9,"date":1,"utc":true},{"year":2012,"month":10,"date":1,"utc":true},{"year":2012,"month":11,"date":1,"utc":true},{"year":2012,"month":12,"date":1,"utc":true},{"year":2013,"month":1,"date":1,"utc":true},{"year":2013,"month":2,"date":1,"utc":true},{"year":2013,"month":3,"date":1,"utc":true},{"year":2013,"month":4,"date":1,"utc":true},{"year":2013,"month":5,"date":1,"utc":true},{"year":2013,"month":6,"date":1,"utc":true}],
    "labelExpr":"utcFormat(datum.value, '%-d') + '−' + utcFormat(datum.value, '%b')","title":null,"grid":true,"tickSize":-13,"labelPadding":45,"labelBaseline":"alphabetic","labelOverlap":false,"labelFlush":false,"labelAngle":0}},
  "y":{"field":"v","type":"quantitative","scale":{"domain":[38.44,38.505],"nice":false,"zero":false},
   "axis":{"values":[38.44,38.46,38.48,38.5],"format":"~g","title":"Salinity","titleX":-95,"titleY":144,"titleAngle":270,"titleAlign":"center","titleBaseline":"alphabetic","grid":true,"tickSize":-13,"labelPadding":23}}
 },
 "layer":[
  {"transform":[{"filter":"datum.s!='K' && datum.s!='A'"}],
   "mark":{"type":"line","strokeWidth":4.2,"strokeJoin":"round"},
   "encoding":{"color":{"field":"s","type":"nominal","scale":{"domain":["P","R","G","M","B"],"range":["#800080","#ff0000","#008000","#800000","#0000ff"]},"legend":null}}},
  {"transform":[{"filter":"datum.s=='K'"}],
   "mark":{"type":"line","color":"#000","strokeWidth":7.5,"strokeCap":"round","strokeDash":[0.1,5]}},
  {"transform":[{"filter":"datum.s=='A'"}],
   "mark":{"type":"point","shape":"M-1,0L1,0M0,-1L0,1M-0.7,-0.7L0.7,0.7M-0.7,0.7L0.7,-0.7","size":625,"filled":false,"color":"#000","strokeWidth":1.3,"opacity":1}}
 ]},
 {"transform":[{"filter":"datum.s=='K'"}],
  "mark":{"type":"line","color":"#000","strokeWidth":4.5,"strokeJoin":"round"},
  "encoding":{"x":{"field":"d","type":"temporal","axis":{"orient":"bottom","title":null,"labels":false,"domain":false,"grid":false,"tickSize":-5,"tickWidth":1,"tickCount":{"interval":"day","step":5}}},"y":{"field":"v","type":"quantitative"}}}
 ]},
{"width":1185,"height":288,"data":{"name":"T"},"resolve":{"axis":{"x":"independent"}},
 "layer":[
 {"encoding":{
  "x":{"field":"d","type":"temporal","scale":{"type":"utc","domain":[{"year":2012,"month":6,"date":30,"utc":true},{"year":2013,"month":8,"date":2,"utc":true}]},
   "axis":{"values":[{"year":2012,"month":8,"date":1,"utc":true},{"year":2012,"month":9,"date":1,"utc":true},{"year":2012,"month":10,"date":1,"utc":true},{"year":2012,"month":11,"date":1,"utc":true},{"year":2012,"month":12,"date":1,"utc":true},{"year":2013,"month":1,"date":1,"utc":true},{"year":2013,"month":2,"date":1,"utc":true},{"year":2013,"month":3,"date":1,"utc":true},{"year":2013,"month":4,"date":1,"utc":true},{"year":2013,"month":5,"date":1,"utc":true},{"year":2013,"month":6,"date":1,"utc":true}],
    "labelExpr":"utcFormat(datum.value, '%-d') + '−' + utcFormat(datum.value, '%b')","title":null,"grid":true,"tickSize":-13,"labelPadding":45,"labelBaseline":"alphabetic","labelOverlap":false,"labelFlush":false,"labelAngle":0}},
  "y":{"field":"v","type":"quantitative","scale":{"domain":[12.74,12.95],"nice":false,"zero":false},
   "axis":{"values":[12.75,12.8,12.85,12.9,12.95],"format":"~g","title":"Potential temperature","titleX":-94,"titleY":144,"titleAngle":270,"titleAlign":"center","titleBaseline":"alphabetic","grid":true,"tickSize":-13,"labelPadding":23}}
 },
 "layer":[
  {"transform":[{"filter":"datum.s!='K' && datum.s!='A'"}],
   "mark":{"type":"line","strokeWidth":4.2,"strokeJoin":"round"},
   "encoding":{"color":{"field":"s","type":"nominal","scale":{"domain":["P","R","G","M","B"],"range":["#800080","#ff0000","#008000","#800000","#0000ff"]},"legend":null}}},
  {"transform":[{"filter":"datum.s=='K'"}],
   "mark":{"type":"line","color":"#000","strokeWidth":7.5,"strokeCap":"round","strokeDash":[0.1,5]}},
  {"transform":[{"filter":"datum.s=='A'"}],
   "mark":{"type":"point","shape":"M-1,0L1,0M0,-1L0,1M-0.7,-0.7L0.7,0.7M-0.7,0.7L0.7,-0.7","size":625,"filled":false,"color":"#000","strokeWidth":1.3,"opacity":1}}
 ]},
 {"transform":[{"filter":"datum.s=='K'"}],
  "mark":{"type":"line","color":"#000","strokeWidth":4.5,"strokeJoin":"round"},
  "encoding":{"x":{"field":"d","type":"temporal","axis":{"orient":"bottom","title":null,"labels":false,"domain":false,"grid":false,"tickSize":-5,"tickWidth":1,"tickCount":{"interval":"day","step":5}}},"y":{"field":"v","type":"quantitative"}}}
 ]},
{"width":1185,"height":288,"data":{"name":"D"},"resolve":{"axis":{"x":"independent"}},
 "layer":[
 {"encoding":{
  "x":{"field":"d","type":"temporal","scale":{"type":"utc","domain":[{"year":2012,"month":6,"date":30,"utc":true},{"year":2013,"month":8,"date":2,"utc":true}]},
   "axis":{"values":[{"year":2012,"month":8,"date":1,"utc":true},{"year":2012,"month":9,"date":1,"utc":true},{"year":2012,"month":10,"date":1,"utc":true},{"year":2012,"month":11,"date":1,"utc":true},{"year":2012,"month":12,"date":1,"utc":true},{"year":2013,"month":1,"date":1,"utc":true},{"year":2013,"month":2,"date":1,"utc":true},{"year":2013,"month":3,"date":1,"utc":true},{"year":2013,"month":4,"date":1,"utc":true},{"year":2013,"month":5,"date":1,"utc":true},{"year":2013,"month":6,"date":1,"utc":true}],
    "labelExpr":"utcFormat(datum.value, '%-d') + '−' + utcFormat(datum.value, '%b')","title":null,"grid":true,"tickSize":-13,"labelPadding":45,"labelBaseline":"alphabetic","labelOverlap":false,"labelFlush":false,"labelAngle":0}},
  "y":{"field":"v","type":"quantitative","scale":{"domain":[29.11,29.135],"nice":false,"zero":false},
   "axis":{"values":[29.11,29.115,29.12,29.125,29.13,29.135],"format":"~g","title":"Potential density","titleX":-108,"titleY":144,"titleAngle":270,"titleAlign":"center","titleBaseline":"alphabetic","grid":true,"tickSize":-13,"labelPadding":23}}
 },
 "layer":[
  {"transform":[{"filter":"datum.s!='K' && datum.s!='A'"}],
   "mark":{"type":"line","strokeWidth":4.2,"strokeJoin":"round"},
   "encoding":{"color":{"field":"s","type":"nominal","scale":{"domain":["P","R","G","M","B"],"range":["#800080","#ff0000","#008000","#800000","#0000ff"]},"legend":null}}},
  {"transform":[{"filter":"datum.s=='K'"}],
   "mark":{"type":"line","color":"#000","strokeWidth":7.5,"strokeCap":"round","strokeDash":[0.1,5]}},
  {"transform":[{"filter":"datum.s=='A'"}],
   "mark":{"type":"point","shape":"M-1,0L1,0M0,-1L0,1M-0.7,-0.7L0.7,0.7M-0.7,0.7L0.7,-0.7","size":625,"filled":false,"color":"#000","strokeWidth":1.3,"opacity":1}}
 ]},
 {"transform":[{"filter":"datum.s=='K'"}],
  "mark":{"type":"line","color":"#000","strokeWidth":4.5,"strokeJoin":"round"},
  "encoding":{"x":{"field":"d","type":"temporal","axis":{"orient":"bottom","title":null,"labels":false,"domain":false,"grid":false,"tickSize":-5,"tickWidth":1,"tickCount":{"interval":"day","step":5}}},"y":{"field":"v","type":"quantitative"}}}
 ]}
]
}
